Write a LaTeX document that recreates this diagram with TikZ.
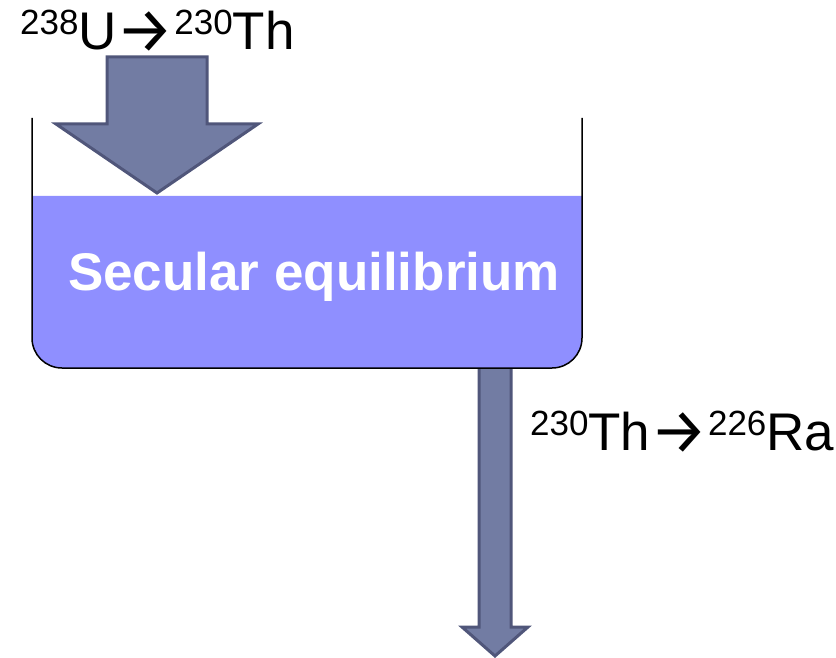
\documentclass[tikz,border=0pt]{standalone}
\usepackage{fontspec}
\setmainfont{Liberation Sans}
\newfontfamily\arrowfont{Fira Sans}
\newcommand\isotope[2]{\raisebox{15pt}{\fontsize{35}{35}\selectfont #1}#2}
\newcommand\decayarrow{\raisebox{-3pt}{\fontsize{64}{64}\arrowfont →}}
\definecolor{liquid}{HTML}{8F8FFF}
\definecolor{arrowfill}{HTML}{727CA3}
\definecolor{arrowline}{HTML}{50567A}
\tikzset{
  bigarrow/.style={fill=arrowfill, draw=arrowline, line width=3pt, line join=miter},
  wall/.style={draw=black, line width=1.5pt},
  label/.style={inner sep=0pt, font=\fontsize{53}{53}\selectfont},
}
\begin{document}
\begin{tikzpicture}[x=1pt,y=-1pt]
\useasboundingbox (0,0) rectangle (836,658);
% liquid
\fill[liquid] (32,196) -- (32,338) .. controls (32,354.6) and (45.4,368) .. (62,368) -- (552,368)
  .. controls (568.6,368) and (582,354.6) .. (582,338) -- (582,196) -- cycle;
% outflow arrow
\draw[bigarrow] (479,369) -- (479,627) -- (462,627) -- (495,656) -- (528,627) -- (511,627) -- (511,369);
% container walls
\draw[wall] (32,118) -- (32,338) .. controls (32,354.6) and (45.4,368) .. (62,368) -- (552,368)
  .. controls (568.6,368) and (582,354.6) .. (582,338) -- (582,118);
% inflow arrow
\draw[bigarrow] (107,57) -- (207,57) -- (207,124) -- (258,124) -- (157,193) -- (56,124) -- (107,124) -- cycle;
% labels
\node[label, anchor=base west] (inlabel) at (20,50) {\isotope{238}{U}\decayarrow\isotope{230}{Th}};
\node[label, anchor=base west] (outlabel) at (530,450) {\isotope{230}{Th}\decayarrow\isotope{226}{Ra}};
\node[label, anchor=base, text=white, font=\fontsize{53}{53}\selectfont\bfseries] (tank) at (314,290) {Secular equilibrium};
\end{tikzpicture}
\end{document}
